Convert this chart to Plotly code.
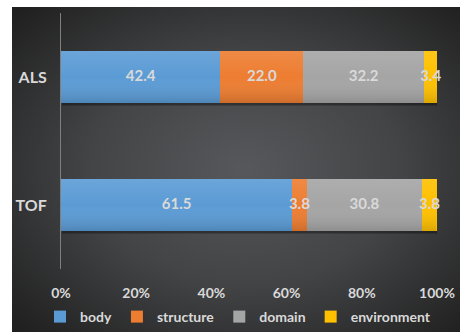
import base64
import plotly.graph_objects as go

# Share of each aspect (percent) per method
methods = ["TOF", "ALS"]
series_names = ["body", "structure", "domain", "environment"]
body = [61.5, 42.4]
structure = [3.8, 22.0]
domain = [30.8, 32.2]
environment = [3.8, 3.4]
x_ticks = [0, 20, 40, 60, 80, 100]
x_tick_labels = ["0%", "20%", "40%", "60%", "80%", "100%"]

colors = ["#5b9bd5", "#ed7d31", "#a5a5a5", "#ffc000"]
text_color = "#d9d9d9"
font_family = "Lato, 'Open Sans', sans-serif"

W, H = 460, 332
L, R, T, B = 61, 23, 13, 63
pw, ph = W - L - R, H - T - B
bar_width = 0.406


def svg_uri(svg):
    return "data:image/svg+xml;base64," + base64.b64encode(svg.encode()).decode()


bg_svg = (
    '<svg xmlns="http://www.w3.org/2000/svg" width="448" height="325" preserveAspectRatio="none">'
    '<defs><radialGradient id="g" cx="52%" cy="50%" r="70%">'
    '<stop offset="0%" stop-color="#56585b"/>'
    '<stop offset="50%" stop-color="#434446"/>'
    '<stop offset="100%" stop-color="#202020"/>'
    '</radialGradient></defs>'
    '<rect width="448" height="325" fill="url(#g)"/></svg>'
)

sheen_svg = (
    '<svg xmlns="http://www.w3.org/2000/svg" width="100" height="50" preserveAspectRatio="none">'
    '<defs><linearGradient id="s" x1="0" y1="0" x2="0" y2="1">'
    '<stop offset="0%" stop-color="#ffffff" stop-opacity="0.10"/>'
    '<stop offset="50%" stop-color="#ffffff" stop-opacity="0"/>'
    '<stop offset="100%" stop-color="#000000" stop-opacity="0.14"/>'
    '</linearGradient></defs>'
    '<rect width="100" height="50" fill="url(#s)"/></svg>'
)

series = [body, structure, domain, environment]

fig = go.Figure()
for name, vals, col in zip(series_names, series, colors):
    fig.add_trace(go.Bar(
        y=methods, x=vals, name=name, orientation="h",
        marker=dict(color=col, line=dict(width=0)),
        hoverinfo="skip",
    ))

# value labels centred on each segment (kept even where the segment is narrow)
left = [0.0] * len(methods)
for vals in series:
    mids = [l + v / 2 for l, v in zip(left, vals)]
    fig.add_trace(go.Scatter(
        x=mids, y=methods, mode="text",
        text=[f"{v:.1f}" for v in vals], textposition="middle center",
        textfont=dict(color=text_color, size=15, family=font_family, weight="bold"),
        showlegend=False, hoverinfo="skip", cliponaxis=False,
    ))
    left = [l + v for l, v in zip(left, vals)]

images = [dict(
    source=svg_uri(bg_svg), xref="paper", yref="paper",
    x=(12 - L) / pw, y=1 + (T - 7) / ph,
    sizex=(W - 12) / pw, sizey=(H - 7) / ph,
    xanchor="left", yanchor="top", sizing="stretch", layer="below",
)]

# soft sheen and shadow on each stacked bar, sized from the row totals
totals = left
for i, tot in enumerate(totals):
    images.append(dict(
        source=svg_uri(sheen_svg), xref="x", yref="y",
        x=0, y=i + bar_width / 2, sizex=tot, sizey=bar_width,
        xanchor="left", yanchor="top", sizing="stretch", layer="above",
    ))

shapes = []
for i, tot in enumerate(totals):
    shapes.append(dict(
        type="rect", xref="x", yref="y", layer="below",
        x0=0.3, x1=tot + 0.3, y0=i - bar_width / 2 - 0.02, y1=i - bar_width / 2,
        fillcolor="rgba(0,0,0,0.35)", line=dict(width=0),
    ))

fig.update_layout(
    width=W, height=H,
    margin=dict(l=L, r=R, t=T, b=B, pad=0, autoexpand=False),
    paper_bgcolor="white", plot_bgcolor="rgba(0,0,0,0)",
    barmode="stack", bargap=1 - bar_width,
    images=images, shapes=shapes,
    font=dict(family=font_family, color=text_color),
    xaxis=dict(
        range=[0, 100], tickmode="array", tickvals=x_ticks, ticktext=x_tick_labels,
        showgrid=False, zeroline=False, showline=False,
        ticks="outside", ticklen=11, tickcolor="rgba(0,0,0,0)",
        tickfont=dict(size=14, color=text_color, family=font_family, weight="bold"),
        fixedrange=True,
    ),
    yaxis=dict(
        range=[-0.5, 1.5], showgrid=False, zeroline=False,
        showline=True, linecolor="#7f7f7f", linewidth=1,
        ticks="outside", ticklen=10, tickcolor="rgba(0,0,0,0)",
        tickfont=dict(size=16, color=text_color, family=font_family, weight="bold"),
        fixedrange=True,
    ),
    legend=dict(
        orientation="h", traceorder="normal",
        x=(40 - L) / pw, xanchor="left",
        y=-(317 - (H - B)) / ph, yanchor="middle",
        font=dict(size=14, color=text_color, family=font_family, weight="bold"),
        bgcolor="rgba(0,0,0,0)", itemwidth=30, tracegroupgap=0,
    ),
    showlegend=True,
)

fig.write_html("out.html", config={"displayModeBar": False})
